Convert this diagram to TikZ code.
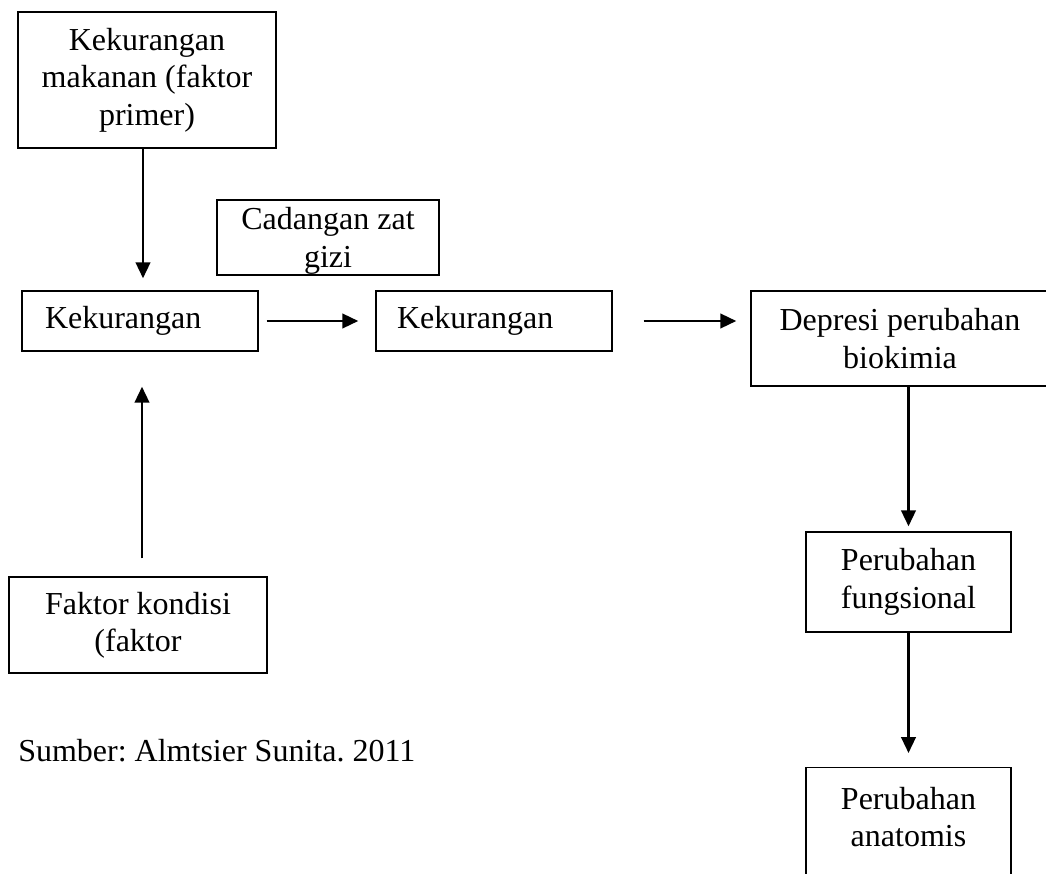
\documentclass[tikz,border=0pt]{standalone}
\usepackage{fontspec}
\setmainfont{Liberation Serif}
\usetikzlibrary{arrows.meta}
\frenchspacing

\tikzset{
  box/.style={draw, line width=1.1pt, inner sep=0pt, align=center, font=\fontsize{24}{28}\selectfont},
  arr/.style={-{Triangle[length=12pt,width=11pt]}, line width=1.7pt},
}

\begin{document}
\begin{tikzpicture}[x=0.75pt,y=0.75pt,yscale=-1,xscale=1]
%set diagram size to 1046 x 874
\useasboundingbox (0,0) rectangle (1046,874);

%Shape: Rectangle [primer]
\node[box, minimum width=193.5pt, minimum height=102pt] (primer) at (147,80) {Kekurangan\\makanan (faktor\\primer)};
%Shape: Rectangle [cadangan]
\node[box, text depth=0pt, minimum width=166.5pt, minimum height=56.25pt] (cadangan) at (328,237.5) {Cadangan zat\\gizi};
%Shape: Rectangle [kurang1]
\node[box, align=left, text width=142.5pt, inner xsep=17.25pt, minimum height=45pt] (kurang1) at (140,321) {Kekurangan};
%Shape: Rectangle [kurang2]
\node[box, align=left, text width=145.5pt, inner xsep=15.75pt, minimum height=45pt] (kurang2) at (494,321) {Kekurangan};
%Shape: Rectangle [depresi]
\node[box, text depth=0pt, minimum width=223.5pt, minimum height=71.25pt] (depresi) at (900,338.5) {Depresi perubahan\\biokimia};
%Shape: Rectangle [fungsi]
\node[box, minimum width=153.75pt, minimum height=75pt] (fungsi) at (908.5,582) {Perubahan\\fungsional};
%Shape: Rectangle [anatomi]
\node[box, minimum width=153.75pt, minimum height=102pt, anchor=north] (anatomi) at (908.5,767) {Perubahan\\anatomis\\\mbox{}};
%Shape: Rectangle [kondisi]
\node[box, minimum width=193.5pt, minimum height=72pt] (kondisi) at (138,625) {Faktor kondisi\\(faktor};

% Text Node
\node[anchor=west, inner sep=0pt, font=\fontsize{24}{28}\selectfont] (sumber) at (18,751) {Sumber: Almtsier Sunita. 2011};

%Arrows
\draw[arr, shorten >=9pt] ([xshift=-3pt]primer.south) -- ([xshift=2.25pt]kurang1.north);
\draw[arr, shorten <=13.5pt, shorten >=26.25pt] ([xshift=3pt]kondisi.north) -- ([xshift=1.5pt]kurang1.south);
\draw[arr, shorten <=6pt, shorten >=12.75pt] (kurang1.east) -- (kurang2.west);
\draw[arr, shorten <=23.25pt, shorten >=10.5pt] (kurang2.east) -- (kurang2.east -| depresi.west);
\draw[arr, shorten >=3.75pt] (fungsi.north |- depresi.south) -- (fungsi.north);
\draw[arr, shorten >=10.5pt] (fungsi.south) -- (anatomi.north);
\end{tikzpicture}
\end{document}
